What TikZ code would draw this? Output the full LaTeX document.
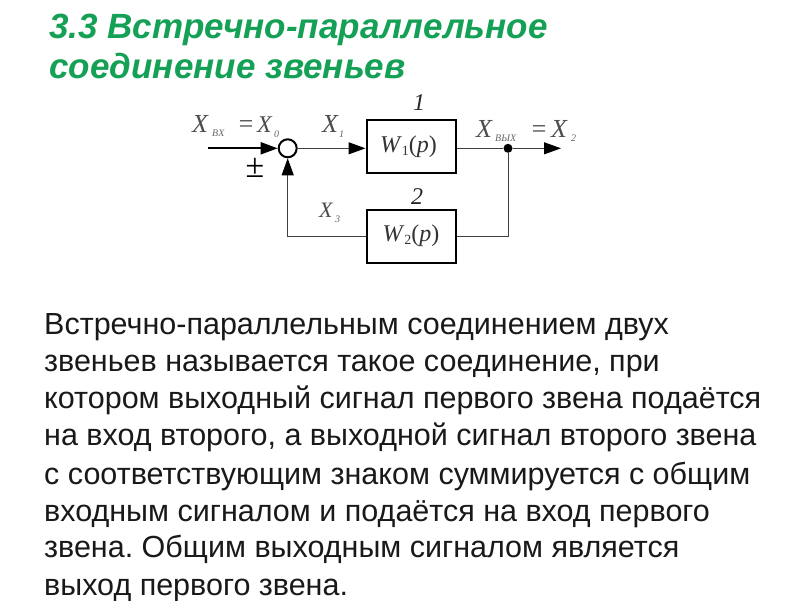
\documentclass[tikz,border=0pt]{standalone}
\usepackage{fontspec}
\setmainfont{Liberation Sans}
\newfontfamily\formfont{Liberation Serif}
\usetikzlibrary{arrows.meta}
\frenchspacing
\definecolor{titlegreen}{RGB}{20,160,85}
\definecolor{bodyink}{RGB}{25,25,25}
\newcommand{\xfer}[1]{{\formfont\fontsize{24}{26}\selectfont\textit{W}\raisebox{-3pt}{\fontsize{14}{16}\selectfont #1}(\textit{p})}}
\tikzset{
 x=1pt,y=-1pt,
 blockbox/.style={draw=black,line width=2pt,minimum width=89pt,minimum height=53pt,inner sep=0pt,text=black!80},
 sumnode/.style={circle,draw=black,line width=2pt,minimum size=18pt,inner sep=0pt,fill=white},
 dotnode/.style={circle,fill=black,minimum size=9pt,inner sep=0pt},
 wire/.style={line width=1pt,draw=black!75},
 sig/.style={wire,-{Triangle[length=17pt,width=12pt,black]}},
 heading/.style={anchor=base west,inner sep=0pt,text=titlegreen,font=\fontsize{35}{37}\selectfont\bfseries\itshape},
 para/.style={anchor=base west,inner sep=0pt,text=bodyink,font=\fontsize{30.5}{34}\selectfont},
 lab/.style={anchor=base west,inner sep=0pt,text=black!70,font=\formfont\itshape\fontsize{26}{28}\selectfont},
 sublab/.style={anchor=base west,inner sep=0pt,text=black!60,font=\formfont\itshape\fontsize{10}{11}\selectfont},
 num/.style={anchor=base,inner sep=0pt,text=black!85,font=\formfont\itshape\fontsize{24}{26}\selectfont}
}
\begin{document}
\begin{tikzpicture}
\useasboundingbox[fill=white] (0,0) rectangle (800,600);
\node[heading] (t1) at (49,38) {3.3 Встречно-параллельное};
\node[heading] (t2) at (49,78) {соединение звеньев};
\node[blockbox] (b1) at (411,146.5) {\hspace{-5pt}\xfer{1}};
\node[blockbox] (b2) at (411,236) {\xfer{2}};
\node[sumnode] (s) at (287.7,148.3) {};
\node[dotnode] (j) at (508,148.3) {};
\coordinate (in) at (208,148.3);
\coordinate (out) at (561,148.3);
\coordinate (fbr) at (508,236);
\coordinate (fbl) at (287.7,236);
\draw[sig,line width=2pt,draw=black] (in) -- (s);
\draw[sig] (s) -- (b1.west |- s);
\draw[wire] (b1.east |- s) -- (j);
\draw[sig] (j) -- (out);
\draw[wire] (j) -- (fbr) -- (b2.east |- fbr);
\draw[sig] (b2.west |- fbl) -- (fbl) -- (s);
\node[lab] (l1) at (192,132) {X};
\node[sublab] (l1a) at (212,136) {BX};
\node[lab] (l1b) at (237,132) {=};
\node[lab,font=\formfont\itshape\fontsize{24}{26}\selectfont] (l1d) at (257,132) {X};
\node[sublab] (l1c) at (274,137) {0};
\node[lab] (l2) at (322,132) {X};
\node[sublab] (l2a) at (339,137) {1};
\node[lab] (l3) at (476,137) {X};
\node[sublab] (l3a) at (495,141) {ВЫХ};
\node[lab] (l3b) at (530,137) {=};
\node[lab] (l3d) at (551,137) {X};
\node[sublab] (l3c) at (571,141) {2};
\node[lab,font=\formfont\itshape\fontsize{22}{24}\selectfont] (l4) at (319,217) {X};
\node[sublab] (l4a) at (335,222) {3};
\node[num] (n1) at (419,110) {1};
\node[num] (n2) at (417,204) {2};
\node[anchor=base,inner sep=0pt,text=black,font=\formfont\fontsize{34}{36}\selectfont] (pm) at (255,177) {±};
\node[para] (p1) at (44,334) {Встречно-параллельным соединением двух};
\node[para] (p2) at (44,371) {звеньев называется такое соединение, при};
\node[para] (p3) at (44,408) {котором выходный сигнал первого звена подаётся};
\node[para] (p4) at (44,445) {на вход второго, а выходной сигнал второго звена};
\node[para] (p5) at (44,484) {с соответствующим знаком суммируется с общим};
\node[para] (p6) at (44,521) {входным сигналом и подаётся на вход первого};
\node[para] (p7) at (44,557) {звена. Общим выходным сигналом является};
\node[para] (p8) at (44,595) {выход первого звена.};
\end{tikzpicture}
\end{document}
